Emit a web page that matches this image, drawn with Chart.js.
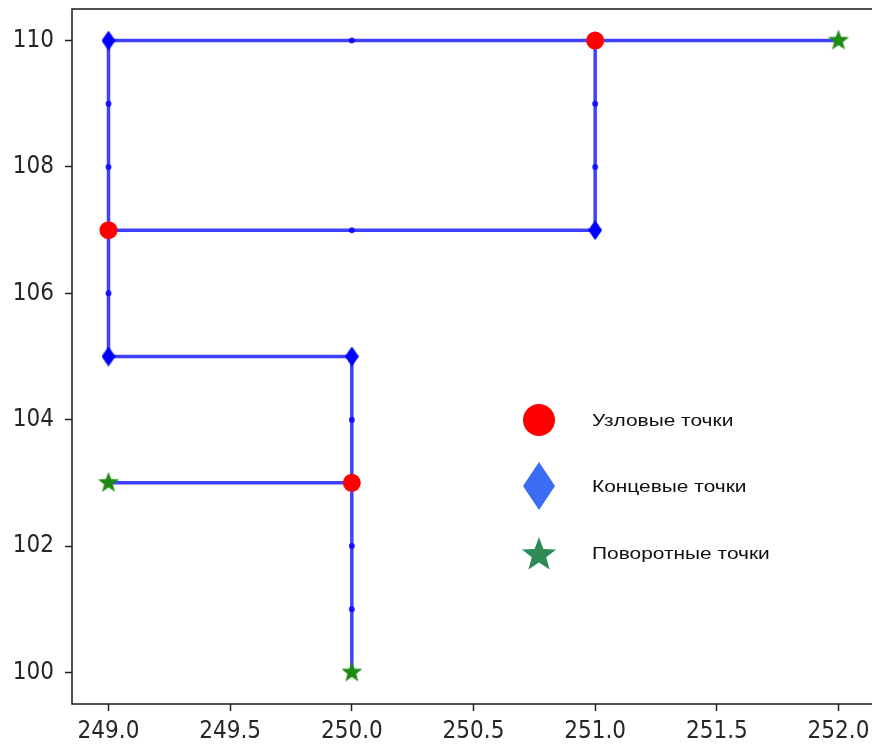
<!DOCTYPE html>
<html>
<head>
<meta charset="utf-8">
<script src="https://cdn.jsdelivr.net/npm/chart.js@4.4.1/dist/chart.umd.min.js"></script>
<style>
    body { margin: 0; background: #fff; }
    #wrap { width: 872px; height: 747px; overflow: hidden; }
</style>
</head>
<body>
<div id="wrap"><canvas id="diagram" width="884" height="747"></canvas></div>
<script>
    // route polyline, null breaks the line
    var pathX = [252, 251, 250, 249, 249, 249, 249, 249, 249, 250, 250, 250, 250, 250, 250, null,
                 249, 250, 251, 251, 251, 251, null,
                 249, 250];
    var pathY = [110, 110, 110, 110, 109, 108, 107, 106, 105, 105, 104, 103, 102, 101, 100, null,
                 107, 107, 107, 108, 109, 110, null,
                 103, 103];

    // node points (red), end points (diamond), turn points (star)
    var nodeX = [251, 249, 250];
    var nodeY = [110, 107, 103];
    var endX = [249, 249, 250, 251];
    var endY = [110, 105, 105, 107];
    var turnX = [252, 249, 250];
    var turnY = [110, 103, 100];

    var xTicks = [249.0, 249.5, 250.0, 250.5, 251.0, 251.5, 252.0];
    var yTicks = [100, 102, 104, 106, 108, 110];
    var legendLabels = ['Узловые точки', 'Концевые точки', 'Поворотные точки'];

    function toPoints(xs, ys) {
        return xs.map(function(x, i) { return { x: x, y: ys[i] }; });
    }

    function makeDiamond(w, h, colour) {
        var c = document.createElement('canvas');
        c.width = w; c.height = h;
        var g = c.getContext('2d');
        g.fillStyle = colour;
        g.beginPath();
        g.moveTo(w / 2, 0);
        g.lineTo(w, h / 2);
        g.lineTo(w / 2, h);
        g.lineTo(0, h / 2);
        g.closePath();
        g.fill();
        return c;
    }

    function starPath(g, cx, cy, r) {
        g.beginPath();
        for (var i = 0; i < 10; i++) {
            var rr = (i % 2 == 0) ? r : r * 0.42;
            var a = -Math.PI / 2 + i * Math.PI / 5;
            var px = cx + rr * Math.cos(a), py = cy + rr * Math.sin(a);
            if (i == 0) g.moveTo(px, py); else g.lineTo(px, py);
        }
        g.closePath();
    }

    function makeStar(r, colour) {
        var c = document.createElement('canvas');
        c.width = 2 * r + 2; c.height = 2 * r + 2;
        var g = c.getContext('2d');
        g.fillStyle = colour;
        starPath(g, r + 1, r + 1, r);
        g.fill();
        return c;
    }

    var diamondImg = makeDiamond(14, 20, '#0000ff');
    var starImg = makeStar(11, '#1f8a12');

    var tickFont = { family: '"DejaVu Sans Condensed", "DejaVu Sans"', size: 24 };

    function noPadding(scale) {
        scale.paddingTop = 0;
        scale.paddingBottom = 0;
        scale.paddingLeft = 0;
        scale.paddingRight = 0;
    }

    // frame around the plot area
    var framePlugin = {
        id: 'frame',
        afterDatasetsDraw: function(chart) {
            var a = chart.chartArea, ctx = chart.ctx;
            ctx.save();
            ctx.strokeStyle = '#1a1a1a';
            ctx.lineWidth = 1.5;
            ctx.strokeRect(a.left, a.top, a.right - a.left, a.bottom - a.top);
            ctx.restore();
        }
    };

    // legend floating inside the plot
    var legendPlugin = {
        id: 'floatLegend',
        afterDraw: function(chart) {
            var ctx = chart.ctx;
            var mx = 539, tx = 592;
            var ys = [420, 486, 553];
            ctx.save();
            // circle
            ctx.fillStyle = '#ff0000';
            ctx.beginPath();
            ctx.arc(mx, ys[0], 16, 0, Math.PI * 2);
            ctx.fill();
            // diamond
            ctx.fillStyle = '#3a6df3';
            ctx.beginPath();
            ctx.moveTo(mx, ys[1] - 24);
            ctx.lineTo(mx + 16, ys[1]);
            ctx.lineTo(mx, ys[1] + 24);
            ctx.lineTo(mx - 16, ys[1]);
            ctx.closePath();
            ctx.fill();
            // star
            ctx.fillStyle = '#2e8b57';
            starPath(ctx, mx, ys[2] + 2, 18);
            ctx.fill();

            // text in the picture is a bit stretched sideways
            ctx.fillStyle = '#111';
            ctx.font = '17px "Liberation Sans", Arial, sans-serif';
            ctx.textBaseline = 'middle';
            ctx.textAlign = 'left';
            ctx.translate(tx, 0);
            ctx.scale(1.23, 1);
            for (var i = 0; i < legendLabels.length; i++) {
                ctx.fillText(legendLabels[i], 0, ys[i] + 1);
            }
            ctx.restore();
        }
    };

    var ctx = document.getElementById('diagram');
    var chart = new Chart(ctx, {
        type: 'scatter',
        data: {
            datasets: [
                {
                    label: legendLabels[0],
                    data: toPoints(nodeX, nodeY),
                    pointStyle: 'circle',
                    pointRadius: 9,
                    pointBackgroundColor: '#ff0000',
                    pointBorderWidth: 0,
                    order: 1
                },
                {
                    label: legendLabels[1],
                    data: toPoints(endX, endY),
                    pointStyle: diamondImg,
                    order: 1
                },
                {
                    label: legendLabels[2],
                    data: toPoints(turnX, turnY),
                    pointStyle: starImg,
                    order: 1
                },
                {
                    label: 'route',
                    data: toPoints(pathX, pathY),
                    showLine: true,
                    spanGaps: false,
                    borderColor: 'rgba(0, 0, 255, 0.75)',
                    borderWidth: 3.5,
                    tension: 0,
                    pointRadius: 3,
                    pointBackgroundColor: 'rgba(0, 0, 255, 0.8)',
                    pointBorderWidth: 0,
                    order: 2
                }
            ]
        },
        options: {
            responsive: false,
            animation: false,
            layout: { padding: { top: 8, right: 2, left: 0, bottom: 0 } },
            plugins: {
                legend: { display: false },
                tooltip: { enabled: false }
            },
            scales: {
                x: {
                    type: 'linear',
                    min: 248.85,
                    max: 252.15,
                    border: { display: false },
                    grid: { drawOnChartArea: false, drawTicks: true, tickLength: 7, tickColor: '#222', tickWidth: 1.5 },
                    afterBuildTicks: function(axis) {
                        axis.ticks = xTicks.map(function(v) { return { value: v }; });
                    },
                    afterFit: function(scale) { scale.height = 43; noPadding(scale); },
                    ticks: {
                        color: '#262626',
                        font: tickFont,
                        padding: 6,
                        maxRotation: 0,
                        callback: function(v) { return Number(v).toFixed(1); }
                    }
                },
                y: {
                    type: 'linear',
                    min: 99.5,
                    max: 110.5,
                    border: { display: false },
                    grid: { drawOnChartArea: false, drawTicks: true, tickLength: 7, tickColor: '#222', tickWidth: 1.5 },
                    afterBuildTicks: function(axis) {
                        axis.ticks = yTicks.map(function(v) { return { value: v }; });
                    },
                    afterFit: function(scale) { scale.width = 72; noPadding(scale); },
                    ticks: {
                        color: '#262626',
                        font: tickFont,
                        padding: 11,
                        callback: function(v) { return String(v); }
                    }
                }
            }
        },
        plugins: [framePlugin, legendPlugin]
    });
</script>
</body>
</html>
